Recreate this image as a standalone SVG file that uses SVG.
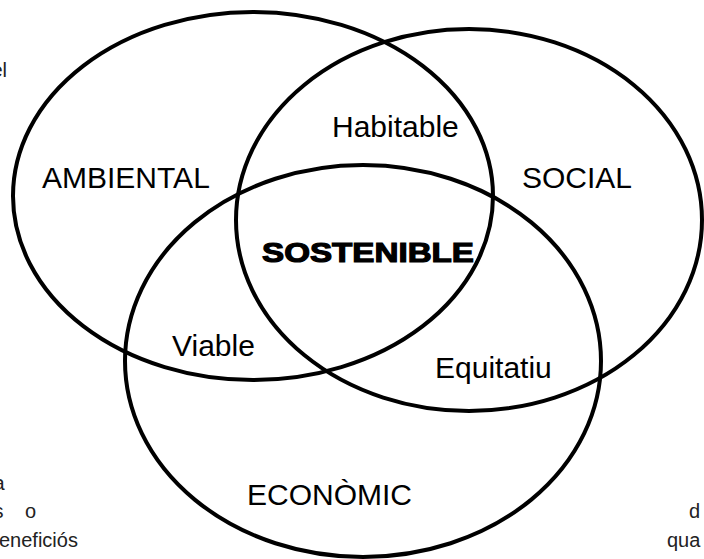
<svg xmlns="http://www.w3.org/2000/svg" width="704" height="559" viewBox="0 0 704 559">
<style>
.c{fill:none;stroke:#000;stroke-width:4}
.t{font-family:"Liberation Sans",Arial,sans-serif;font-size:30px;fill:#000}
.s{font-family:"Liberation Sans",Arial,sans-serif;font-size:20px;fill:#222}
.b{font-family:"Liberation Sans",Arial,sans-serif;font-size:28px;font-weight:bold;fill:#000;stroke:#000;stroke-width:1.2}
</style>
<rect width="704" height="559" fill="#fff"/>
<g id="background-text">
<text class="s" x="-8.5" y="77">el</text>
<text class="s" x="4.5" y="490" text-anchor="end">a</text>
<text class="s" x="3.5" y="518" text-anchor="end">s</text>
<text class="s" x="25" y="518">o</text>
<text class="s" x="-1" y="547">eneficiós</text>
<text class="s" x="689" y="518">d</text>
<text class="s" x="667" y="547">qua</text>
</g>
<g id="connectors">
<ellipse id="ambiental" class="c" cx="253" cy="196" rx="240" ry="184"/>
<ellipse id="social" class="c" cx="469" cy="220" rx="233" ry="191"/>
<ellipse id="economic" class="c" cx="363" cy="361" rx="238" ry="196"/>
</g>
<g id="label-ambiental"><text class="t" x="42" y="188">AMBIENTAL</text></g>
<g id="label-social"><text class="t" x="522" y="188">SOCIAL</text></g>
<g id="label-habitable"><text class="t" x="332" y="137">Habitable</text></g>
<g id="label-sostenible"><text class="b" x="262" y="262" textLength="212" lengthAdjust="spacingAndGlyphs">SOSTENIBLE</text></g>
<g id="label-viable"><text class="t" x="172" y="356">Viable</text></g>
<g id="label-equitatiu"><text class="t" x="435" y="378">Equitatiu</text></g>
<g id="label-economic"><text class="t" x="247" y="505">ECONÒMIC</text></g>
</svg>
